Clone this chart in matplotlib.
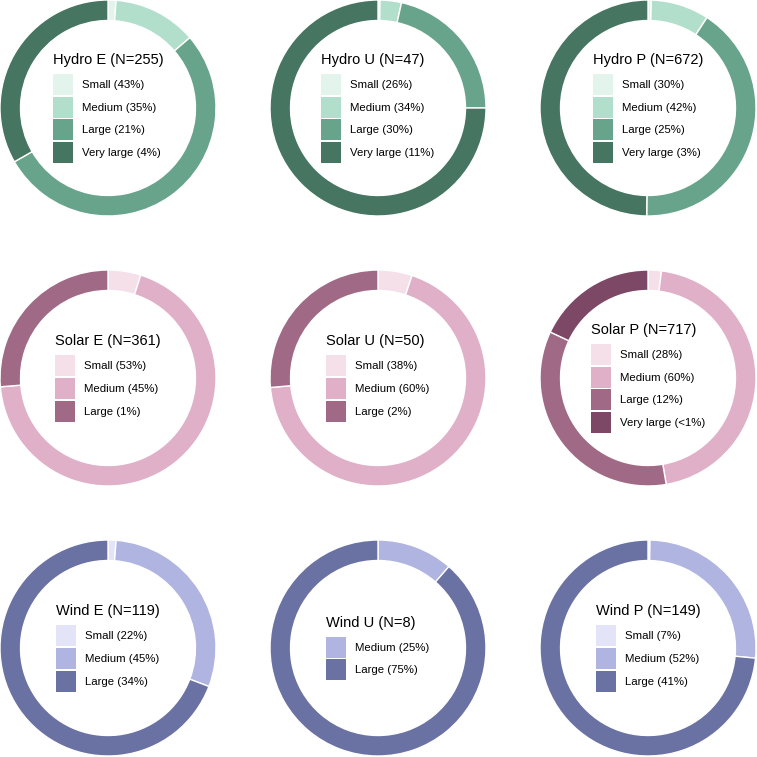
import matplotlib.pyplot as plt
from matplotlib.patches import Patch

plt.rcParams['font.family'] = ['Liberation Sans', 'DejaVu Sans']

# panel titles and sample sizes
titles = ["Hydro E", "Hydro U", "Hydro P",
          "Solar E", "Solar U", "Solar P",
          "Wind E", "Wind U", "Wind P"]
counts = [255, 47, 672, 361, 50, 717, 119, 8, 149]

# size classes shown in each panel
classes = [["Small", "Medium", "Large", "Very large"],
           ["Small", "Medium", "Large", "Very large"],
           ["Small", "Medium", "Large", "Very large"],
           ["Small", "Medium", "Large"],
           ["Small", "Medium", "Large"],
           ["Small", "Medium", "Large", "Very large"],
           ["Small", "Medium", "Large"],
           ["Medium", "Large"],
           ["Small", "Medium", "Large"]]

# share of projects (legend text)
count_share = [["43%", "35%", "21%", "4%"],
               ["26%", "34%", "30%", "11%"],
               ["30%", "42%", "25%", "3%"],
               ["53%", "45%", "1%"],
               ["38%", "60%", "2%"],
               ["28%", "60%", "12%", "<1%"],
               ["22%", "45%", "34%"],
               ["25%", "75%"],
               ["7%", "52%", "41%"]]

# share drawn as ring slices
ring_share = [[1.2, 12.5, 53.0, 33.3],
              [0.3, 3.2, 21.5, 75.0],
              [0.5, 8.7, 41.0, 49.8],
              [4.9, 68.8, 26.3],
              [5.1, 68.5, 26.4],
              [2.0, 45.3, 34.7, 18.0],
              [1.2, 29.6, 69.2],
              [11.4, 88.6],
              [0.3, 26.2, 73.5]]

palettes = {
    "Hydro": {"Small": "#e3f4ed", "Medium": "#b2dfcc", "Large": "#68a48b", "Very large": "#467562"},
    "Solar": {"Small": "#f5e0ea", "Medium": "#dfb0c8", "Large": "#a06a86", "Very large": "#7d4866"},
    "Wind": {"Small": "#e3e4f8", "Medium": "#b0b4e0", "Large": "#6a72a3"},
}

fig = plt.figure(figsize=(7.57, 7.57), dpi=100)
W = 757.0
size = 216

for i in range(9):
    row, col = divmod(i, 3)
    left = col * 270 / W
    bottom = 1 - (row * 270 + size) / W
    ax = fig.add_axes([left, bottom, size / W, size / W])

    pal = palettes[titles[i].split()[0]]
    cols = [pal[c] for c in classes[i]]

    ax.pie(ring_share[i], colors=cols, startangle=90, counterclock=False,
           radius=1.0, wedgeprops=dict(width=0.19, edgecolor='white', linewidth=1.0))
    ax.set_xlim(-1.0, 1.0)
    ax.set_ylim(-1.0, 1.0)

    handles = [Patch(facecolor=c, edgecolor='none') for c in cols]
    labels = [c + " (" + s + ")" for c, s in zip(classes[i], count_share[i])]
    leg = ax.legend(handles, labels, loc='center', frameon=False,
                    title=titles[i] + " (N=" + str(counts[i]) + ")",
                    title_fontsize=10.5, fontsize=8.2, alignment='left',
                    handlelength=1.75, handleheight=2.45, labelspacing=0.15,
                    handletextpad=0.8, borderpad=0)
    # a bit more room under the title
    leg._legend_box.sep = 5

fig.savefig("out.png", dpi=100)
